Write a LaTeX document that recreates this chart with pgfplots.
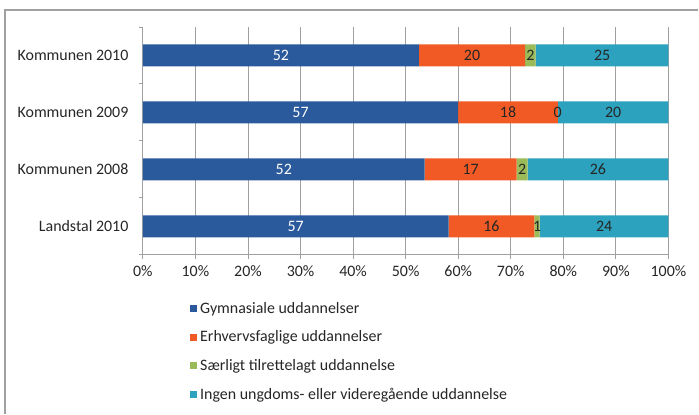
\documentclass[border=0pt]{standalone}
\usepackage{fontspec}
\setmainfont{Carlito}
\usepackage{pgfplots}
\usepackage{pgfplotstable}
\pgfplotsset{compat=1.18}

\definecolor{gymblue}{HTML}{2A5A9C}
\definecolor{erhvorange}{HTML}{F15A24}
\definecolor{saergreen}{HTML}{9BBB59}
\definecolor{ingenteal}{HTML}{2CA2BE}
\definecolor{gridgray}{HTML}{A0A0A0}

% raw counts as printed on the bars; each row is drawn as a share of its total
\pgfplotstableread{
row gym erhv saer ingen total
0   52  20   2    25    99
1   57  18   0    20    95
2   52  17   2    26    97
3   57  16   1    24    98
}\shares

\pgfplotsset{
  frame/.style={
    width=526bp, height=228bp, scale only axis,
    xmin=0, xmax=100, ymin=-0.5, ymax=3.5, y dir=reverse,
    /pgf/number format/assume math mode=true,
  },
}

\newcommand{\chartfont}{\fontsize{16}{19}\selectfont}

\begin{document}
\begin{tikzpicture}
\begin{axis}[
    frame, name=main,
    xbar stacked, bar width=22bp,
    xtick={0,10,...,100},
    xticklabel={\pgfmathprintnumber{\tick}\%},
    ytick={0,1,2,3},
    yticklabels={Kommunen 2010,Kommunen 2009,Kommunen 2008,Landstal 2010},
    minor ytick={-0.5,0.5,1.5,2.5,3.5},
    major y tick style={draw=none},
    xmajorgrids, grid style={gridgray, line width=0.9bp},
    axis x line*=bottom, axis y line*=left,
    axis line style={gridgray, line width=0.9bp, -},
    tick style={gridgray, line width=0.9bp},
    tick align=outside, major tick length=4bp, minor tick length=4bp,
    tick label style={font=\chartfont, text=black!85},
    x tick label style={yshift=-3bp},
    y tick label style={xshift=-7bp},
    legend image code/.code={\fill[#1] (0bp,-3.5bp) rectangle (7bp,3.5bp); \path (0bp,0bp) -- (8bp,0bp);},
    legend cell align=left,
    legend style={at={(axis description cs:0.084,-0.19)}, anchor=north west,
      draw=none, fill=none, font=\chartfont, text=black!85, row sep=12bp},
]
\addplot[fill=gymblue, draw=none] table[y=row, x expr={\thisrow{gym}/\thisrow{total}*100}]{\shares};
\addplot[fill=erhvorange, draw=none] table[y=row, x expr={\thisrow{erhv}/\thisrow{total}*100}]{\shares};
\addplot[fill=saergreen, draw=none] table[y=row, x expr={\thisrow{saer}/\thisrow{total}*100}]{\shares};
\addplot[fill=ingenteal, draw=none] table[y=row, x expr={\thisrow{ingen}/\thisrow{total}*100}]{\shares};
\legend{Gymnasiale uddannelser, Erhvervsfaglige uddannelser,
  Særligt tilrettelagt uddannelse, Ingen ungdoms- eller videregående uddannelse}
\end{axis}

% value labels, centred in each segment
\begin{axis}[
    frame, hide axis,
    point meta=explicit,
    nodes near coords,
    nodes near coords style={font=\chartfont, anchor=center, text=black!85},
]
\addplot[only marks, mark=none, nodes near coords style={text=white}]
  table[y=row, x expr={\thisrow{gym}/2/\thisrow{total}*100}, meta=gym]{\shares};
\addplot[only marks, mark=none]
  table[y=row, x expr={(\thisrow{gym}+\thisrow{erhv}/2)/\thisrow{total}*100}, meta=erhv]{\shares};
\addplot[only marks, mark=none]
  table[y=row, x expr={(\thisrow{gym}+\thisrow{erhv}+\thisrow{saer}/2)/\thisrow{total}*100}, meta=saer]{\shares};
\addplot[only marks, mark=none]
  table[y=row, x expr={(\thisrow{gym}+\thisrow{erhv}+\thisrow{saer}+\thisrow{ingen}/2)/\thisrow{total}*100}, meta=ingen]{\shares};
\end{axis}

% outer frame of the chart area
\path ([xshift=-143bp,yshift=-159bp]main.south west) rectangle ([xshift=30bp,yshift=27bp]main.north east);
\draw[gridgray, line width=1.2bp]
  ([xshift=-138bp,yshift=-159bp]main.south west)
  -- ([xshift=-138bp,yshift=17bp]main.north west)
  -- ([xshift=30bp,yshift=17bp]main.north east);
\end{tikzpicture}
\end{document}
